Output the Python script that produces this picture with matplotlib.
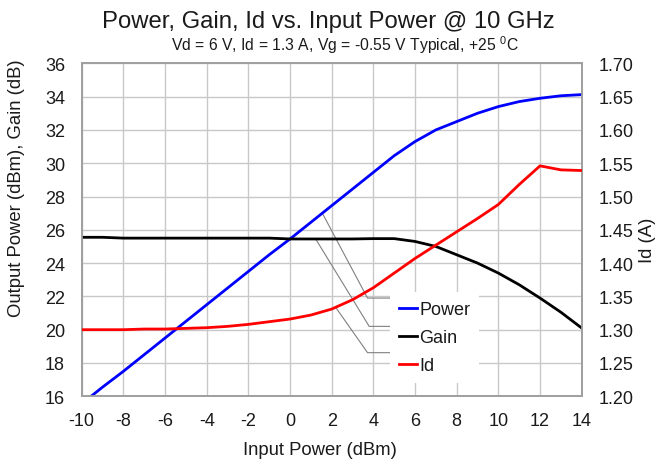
import numpy as np
import matplotlib
matplotlib.use("Agg")
import matplotlib.pyplot as plt

plt.rcParams['font.family'] = ['Liberation Sans', 'DejaVu Sans']
plt.rcParams['axes.unicode_minus'] = False
plt.rcParams['mathtext.fontset'] = 'custom'
plt.rcParams['mathtext.rm'] = 'Liberation Sans'

pin = [-10, -9, -8, -7, -6, -5, -4, -3, -2, -1, 0, 1, 2, 3, 4, 5, 6, 7, 8, 9, 10, 11, 12, 13, 14]
power = [15.55, 16.55, 17.5, 18.5, 19.5, 20.5, 21.5, 22.5, 23.5, 24.5, 25.45, 26.45, 27.45,
         28.45, 29.45, 30.45, 31.3, 32.0, 32.5, 33.0, 33.4, 33.7, 33.9, 34.05, 34.12]
gain = [25.55, 25.55, 25.5, 25.5, 25.5, 25.5, 25.5, 25.5, 25.5, 25.5, 25.45, 25.45, 25.45,
        25.45, 25.47, 25.47, 25.3, 25.0, 24.5, 24.0, 23.4, 22.7, 21.9, 21.05, 20.1]
idc = [1.300, 1.300, 1.300, 1.301, 1.301, 1.302, 1.303, 1.305, 1.308, 1.312, 1.316, 1.322,
       1.331, 1.345, 1.363, 1.385, 1.407, 1.427, 1.447, 1.467, 1.488, 1.518, 1.546, 1.540, 1.539]

xticks = list(range(-10, 15, 2))
yticks_left = list(range(16, 37, 2))
yticks_right = [1.20, 1.25, 1.30, 1.35, 1.40, 1.45, 1.50, 1.55, 1.60, 1.65, 1.70]

# leader-line anchors (Pin where leader meets curve), elbow and end in data units
lead_power = (1.55, 3.72, 21.9)
lead_gain = (1.23, 3.80, 20.2)
lead_id = (2.19, 3.72, 1.2655)
lead_end = 4.84

fig = plt.figure(figsize=(6.56, 4.64), dpi=100)
ax = fig.add_axes([81.7/656, 1-397.3/464, 500/656, 333/464])
ax2 = ax.twinx()

grid_c = '#c8c8c8'
spine_c = '#a0a0a0'
txt_c = '#1a1a1a'

ax.set_xlim(-10, 14)
ax.set_ylim(16, 36)
ax2.set_ylim(1.20, 1.70)
ax.set_xticks(xticks)
ax.set_yticks(yticks_left)
ax2.set_yticks(yticks_right)
ax2.set_yticklabels([f"{v:.2f}" for v in yticks_right])
ax.grid(True, color=grid_c, lw=1.0)
ax.set_axisbelow(True)
for a in (ax, ax2):
    for s in a.spines.values():
        s.set_color(spine_c)
        s.set_linewidth(1.3)
    a.tick_params(length=0, labelsize=13, colors=txt_c)
ax.tick_params(axis='y', pad=12)
ax.tick_params(axis='x', pad=11)
ax2.tick_params(axis='y', pad=12)

lc = '#808080'
yp = np.interp(lead_power[0], pin, power)
ax.plot([lead_power[0], lead_power[1], lead_end], [yp, lead_power[2], lead_power[2]],
        color=lc, lw=0.8, zorder=1.5)
yg = np.interp(lead_gain[0], pin, gain)
ax.plot([lead_gain[0], lead_gain[1], lead_end], [yg, lead_gain[2], lead_gain[2]],
        color=lc, lw=0.8, zorder=1.5)
yi = np.interp(lead_id[0], pin, idc)
ax2.plot([lead_id[0], lead_id[1], lead_end], [yi, lead_id[2], lead_id[2]],
         color=lc, lw=0.8, zorder=1)

lp, = ax.plot(pin, power, color='#0000ff', lw=2.0, zorder=3, label='Power')
lg, = ax.plot(pin, gain, color='#000000', lw=2.0, zorder=3, label='Gain')
li, = ax2.plot(pin, idc, color='#ff0000', lw=2.0, zorder=3, label='Id')

leg = ax2.legend(handles=[lp, lg, li], loc='upper left',
                 bbox_to_anchor=(390/656, 1-293/464), bbox_transform=fig.transFigure,
                 frameon=True, fancybox=False, edgecolor='none', facecolor='white',
                 framealpha=1.0, fontsize=13, handlelength=1.0, handletextpad=0.12,
                 labelspacing=0.62, borderpad=0.5, borderaxespad=0)
leg.set_zorder(10)
for t in leg.get_texts():
    t.set_color(txt_c)

ax.set_xlabel('Input Power (dBm)', fontsize=13.3, color=txt_c)
ax.xaxis.set_label_coords(0.477, -(442-397.3)/333)
ax.set_ylabel('Output Power (dBm), Gain (dB)', fontsize=13.3, color=txt_c)
ax.yaxis.set_label_coords(-(81.7-25)/500, (397.3-188)/333)
ax2.set_ylabel('Id (A)', fontsize=13.3, color=txt_c, rotation=90)
ax2.yaxis.set_label_coords(1+(639-581.7)/500, (397.3-240)/333)

fig.text(0.5, 1-28/464, 'Power, Gain, Id vs. Input Power @ 10 GHz', ha='center', va='baseline',
         fontsize=17.2, color=txt_c)
fig.text(345/656, 1-51/464, 'Vd = 6 V, Id = 1.3 A, Vg = -0.55 V Typical, +25 $^{\\rm 0}$C',
         ha='center', va='baseline', fontsize=11.3, color=txt_c)

fig.savefig('out.png', dpi=100)
